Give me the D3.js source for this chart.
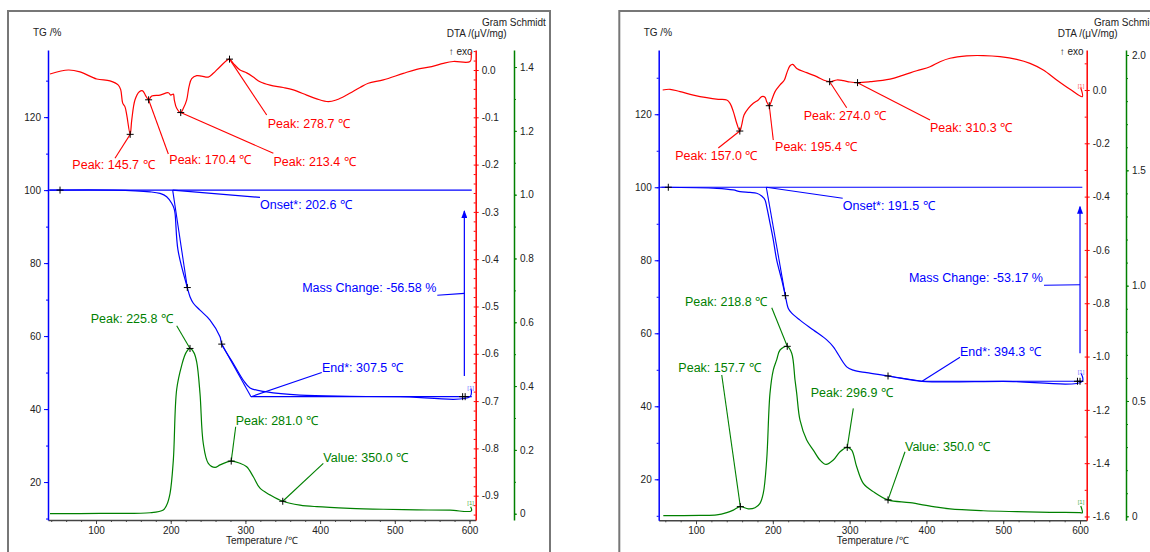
<!DOCTYPE html>
<html>
<head>
<meta charset="utf-8">
<script src="https://cdn.jsdelivr.net/npm/d3@7"></script>
<style>
  body { margin: 0; background: #fff; }
  svg text { font-family: "Liberation Sans", Arial, sans-serif; }
</style>
</head>
<body>
<svg id="chart" width="1150" height="552"></svg>
<script>
// tick labels
const xTicks = [100, 200, 300, 400, 500, 600];
const tgTicks = [20, 40, 60, 80, 100, 120];
const dtaTicksA = [0, -0.1, -0.2, -0.3, -0.4, -0.5, -0.6, -0.7, -0.8, -0.9];
const gsTicksA = [0, 0.2, 0.4, 0.6, 0.8, 1.0, 1.2, 1.4];
const dtaTicksB = [0, -0.2, -0.4, -0.6, -0.8, -1.0, -1.2, -1.4, -1.6];
const gsTicksB = [0, 0.5, 1.0, 1.5, 2.0];

// left sample: [temperature, value]
const dtaA = [[38.4,-0.0085],[62.9,0.0],[78.6,-0.004],[100.9,-0.019],[118.7,-0.023],[129.9,-0.032],[133.1,-0.042],[135.7,-0.070],[138.8,-0.078],[141.1,-0.095],[145.7,-0.136],[147.8,-0.106],[152.2,-0.063],[158.0,-0.046],[162.5,-0.044],[166.0,-0.053],[170.4,-0.063],[174.6,-0.055],[185.7,-0.053],[196.8,-0.048],[200.0,-0.053],[203.5,-0.051],[204.8,-0.063],[208.0,-0.081],[213.4,-0.090],[216.9,-0.081],[221.4,-0.063],[224.5,-0.035],[228.1,-0.018],[234.8,-0.012],[241.5,-0.013],[250.3,-0.015],[257.0,-0.007],[266.0,0.007],[278.7,0.023],[283.8,0.014],[292.8,0.0],[301.7,-0.006],[310.6,-0.015],[319.5,-0.025],[332.9,-0.032],[350.7,-0.037],[364.1,-0.042],[382.0,-0.053],[395.4,-0.061],[411.0,-0.067],[422.2,-0.063],[435.6,-0.053],[453.4,-0.037],[464.5,-0.028],[484.6,-0.021],[511.4,-0.007],[529.3,0.0015],[549.4,0.007],[564.9,0.014],[578.3,0.018],[600.7,0.018],[602,0.038]];
const tgA = [[38,100],[123.2,100],[172.3,99.53],[185.7,99.1],[194.6,98.2],[201.3,96.4],[204.4,95.0],[205.8,93.6],[209.7,83.6],[222.2,73.3],[225.8,70.8],[230.3,69.0],[239.2,67.1],[252.6,64.4],[266.0,59.8],[268.3,57.8],[283.8,52.5],[297.2,47.9],[306.2,45.8],[328.5,44.7],[373.1,43.8],[440,43.5],[507,43.4],[600.7,43.4],[602,45.6]];
const gsA = [[38.4,0.0],[105.4,0.001],[172.3,0.003],[190.1,0.012],[194.6,0.027],[199.1,0.064],[203.5,0.168],[208.0,0.39],[214.7,0.465],[220.5,0.505],[225.8,0.518],[231,0.505],[234.8,0.475],[239.2,0.377],[243.6,0.22],[250.3,0.158],[259.3,0.145],[266,0.153],[281.0,0.165],[292.8,0.158],[301.7,0.147],[310.6,0.116],[319.5,0.080],[332.9,0.059],[350,0.039],[373.1,0.027],[395.4,0.022],[440,0.017],[484.6,0.014],[529.3,0.012],[574,0.011],[602.5,0.009],[601.5,0.022]];

// right sample
const dtaB = [[56.6,0.0],[66.1,0.0026],[79.2,-0.006],[96.5,-0.019],[113.9,-0.029],[129,-0.035],[140,-0.0375],[144.3,-0.05],[148.6,-0.081],[153,-0.125],[157.0,-0.154],[159.5,-0.131],[162.5,-0.094],[168.1,-0.069],[174.6,-0.05],[181.1,-0.0375],[185.5,-0.025],[189.8,-0.027],[192,-0.044],[195.4,-0.059],[198.6,-0.0375],[202.9,-0.006],[209.4,0.019],[215,0.0375],[218.1,0.063],[222.4,0.091],[225.9,0.096],[231.1,0.081],[244.1,0.065],[257.2,0.05],[265.8,0.0375],[274.0,0.031],[283.4,0.0375],[291.8,0.035],[300.5,0.03],[310.3,0.0275],[326.6,0.031],[352.6,0.041],[370,0.056],[387.4,0.072],[404.7,0.087],[417.7,0.106],[430.7,0.119],[452.4,0.128],[474.1,0.129],[495.8,0.125],[517.6,0.115],[534.9,0.1],[552.2,0.075],[569.6,0.0375],[587,0.0026],[603,-0.025],[601,0.0075]];
const tgB = [[55,100],[127,99.7],[148.6,99.26],[157.3,98.8],[170.3,98.6],[179,98.36],[185.5,97.6],[189.8,96.5],[192,94.7],[196.4,90.1],[200.6,85.6],[205,80.1],[211.6,74.6],[216.3,70.3],[220.2,66.8],[224.6,65.5],[235.4,63.6],[252.8,60.9],[270.2,58.2],[278.8,56.3],[296.2,50.8],[304.8,49.9],[322.2,49.2],[350,48.3],[365.6,47.7],[394.3,46.85],[500,46.85],[603,46.85],[601.5,49.0]];
const gsB = [[57.4,0.003],[105.2,0.004],[127,0.006],[140,0.016],[148.6,0.027],[157.7,0.042],[168.1,0.032],[176.8,0.037],[183.3,0.056],[187.6,0.1],[192,0.244],[196.3,0.533],[200.6,0.634],[205,0.678],[209.4,0.721],[218.8,0.737],[224.6,0.707],[228.9,0.591],[231.1,0.533],[235.4,0.417],[244.1,0.331],[252.7,0.287],[261.4,0.244],[269.3,0.225],[278.8,0.244],[287.5,0.28],[296.9,0.299],[302.7,0.287],[309.2,0.215],[317.8,0.143],[330.8,0.107],[350,0.071],[378.6,0.059],[409,0.042],[430.7,0.032],[474,0.024],[517.5,0.02],[560.9,0.017],[600,0.016],[603,0.015],[601,0.045]];

// peak labels: marker, leader end, text position
const dtaPeaksA = [
  {kind: "Peak", t: 145.7, v: -0.136, lead: [125.4, -0.1867], at: [68.3, -0.2093]},
  {kind: "Peak", t: 170.4, v: -0.063, lead: [196.8, -0.1776], at: [198.1, -0.1994]},
  {kind: "Peak", t: 213.4, v: -0.090, lead: [337.4, -0.176], at: [337.6, -0.2023]},
  {kind: "Peak", t: 278.7, v: 0.023, lead: [328.5, -0.0951], at: [329.9, -0.1226]}
];
const gsPeaksA = [
  {kind: "Peak", t: 225.8, v: 0.518, lead: [208, 0.589], at: [92.9, 0.5978]},
  {kind: "Peak", t: 281.0, v: 0.165, lead: [287, 0.2727], at: [287, 0.2765]},
  {kind: "Value", t: 350.0, v: 0.039, lead: [404.3, 0.158], at: [404.3, 0.1636]}
];
const dtaPeaksB = [
  {kind: "Peak", t: 157.0, v: -0.154, lead: [129, -0.2176], at: [73, -0.2645]},
  {kind: "Peak", t: 195.4, v: -0.059, lead: [200.6, -0.1876], at: [202.9, -0.2277]},
  {kind: "Peak", t: 274.0, v: 0.031, lead: [296.2, -0.0664], at: [240.2, -0.1144]},
  {kind: "Peak", t: 310.3, v: 0.0275, lead: [404.7, -0.1126], at: [404.7, -0.1576]}
];
const gsPeaksB = [
  {kind: "Peak", t: 157.7, v: 0.042, lead: [133.5, 0.6127], at: [77, 0.6255]},
  {kind: "Peak", t: 218.8, v: 0.737, lead: [198.6, 0.904], at: [85.7, 0.9138]},
  {kind: "Peak", t: 296.9, v: 0.299, lead: [304.8, 0.468], at: [249.3, 0.5193]},
  {kind: "Value", t: 350.0, v: 0.071, lead: [372.1, 0.28], at: [372.1, 0.283]}
];

// TG evaluation (onset / end / mass change)
const tgEventsA = {start: [51.8, 100], onset: 202.6, onsetTan: [222.2, 73.3], onsetLead: [319.5, 98.0], onsetAt: [319.5, 94.8],
  endMark: [268.3, 57.8], end: 307.5, endLevel: 43.4, endLead: [402.2, 50.0], endAt: [402.5, 50.27], endMarks: [590.8, 594.2],
  mass: -56.58, arrowT: 593.1, arrowFrom: 49.04, arrowTo: 94.25, mcLead: [[556.9, 71.2], [593.1, 71.7]]};
const tgEventsB = {start: [63.9, 100], onset: 191.5, onsetTan: [216.3, 70.3], onsetLead: [291, 97.0], onsetAt: [291, 93.84],
  endMark: [350, 48.3], end: 394.3, endLevel: 46.85, endLead: [443.7, 53.42], endAt: [443.7, 53.84], endMarks: [596.7, 600],
  mass: -53.17, arrowT: 600, arrowFrom: 54.52, arrowTo: 94.68, mcLead: [[553.1, 73.15], [600, 73.3]]};

const panels = [
  {frame: [8, 550], left: 48, right: 475.7, green: 514, top: 50, bottom: 520,
   tDom: [35.7, 608.3], tgDom: [9.6, 138.4], dtaDom: [-0.9514, 0.0423], gsDom: [-0.0197, 1.4534],
   dtaTicks: dtaTicksA, dtaMinor: 0.02, gsTicks: gsTicksA,
   dta: dtaA, tg: tgA, gs: gsA, dtaPeaks: dtaPeaksA, gsPeaks: gsPeaksA, ev: tgEventsA, redTag: false},
  {frame: [619.3, 1160], left: 658.7, right: 1086.7, green: 1126, top: 50, bottom: 520.3,
   tDom: [51.4, 608.7], tgDom: [8.77, 137.6], dtaDom: [-1.6143, 0.150], gsDom: [-0.0173, 2.0217],
   dtaTicks: dtaTicksB, dtaMinor: 0.1, gsTicks: gsTicksB,
   dta: dtaB, tg: tgB, gs: gsB, dtaPeaks: dtaPeaksB, gsPeaks: gsPeaksB, ev: tgEventsB, redTag: true}
];

const RED = "#ff0000", BLUE = "#0000ff", GREEN = "#008000";
const svg = d3.select("#chart");

// arrowhead pointing along the line direction
svg.append("defs").append("marker")
  .attr("id", "arrow").attr("viewBox", "0 0 8 6").attr("refX", 7).attr("refY", 3)
  .attr("markerWidth", 8).attr("markerHeight", 6).attr("orient", "auto")
  .attr("markerUnits", "userSpaceOnUse")
  .append("path").attr("d", "M0,0L8,3L0,6Z").attr("fill", BLUE);

function minorRange(lo, hi, step) {
  const out = [];
  for (let v = Math.ceil(lo / step) * step; v <= hi + 1e-9; v += step) out.push(+v.toFixed(4));
  return out;
}

function styleAxis(g, color) {
  g.attr("font-size", 10).attr("font-family", '"Liberation Sans", Arial, sans-serif');
  g.select(".domain").attr("stroke", color).attr("stroke-width", 1.5);
  g.selectAll(".tick line").attr("stroke", color);
  g.selectAll(".tick text").attr("fill", "#222");
}

function cross(g, x, y) {
  g.append("path").attr("d", `M${x - 3.5},${y}H${x + 3.5}M${x},${y - 3.5}V${y + 3.5}`)
    .attr("stroke", "#000").attr("stroke-width", 1);
}

function drawPanel(p) {
  const g = svg.append("g");
  g.append("rect").attr("x", p.frame[0]).attr("y", 11)
    .attr("width", p.frame[1] - p.frame[0]).attr("height", 560)
    .attr("fill", "none").attr("stroke", "#777").attr("stroke-width", 2);

  const x = d3.scaleLinear().domain(p.tDom).range([p.left, p.right]);
  const yTG = d3.scaleLinear().domain(p.tgDom).range([p.bottom, p.top]);
  const yDTA = d3.scaleLinear().domain(p.dtaDom).range([p.bottom, p.top]);
  const yGS = d3.scaleLinear().domain(p.gsDom).range([p.bottom, p.top]);

  // x axis
  const xa = g.append("g").attr("transform", `translate(0,${p.bottom})`)
    .call(d3.axisBottom(x).tickValues(xTicks).tickSize(4).tickSizeOuter(0).tickPadding(3));
  styleAxis(xa, "#444");
  const xm = g.append("g").attr("transform", `translate(0,${p.bottom})`)
    .call(d3.axisBottom(x).tickValues(minorRange(p.tDom[0], p.tDom[1], 20)).tickSize(2).tickFormat(""));
  xm.select(".domain").remove(); xm.selectAll("line").attr("stroke", "#444");
  g.append("text").attr("x", (p.left + p.right) / 2).attr("y", p.bottom + 24)
    .attr("text-anchor", "middle").attr("font-size", 10).attr("fill", "#222").text("Temperature /℃");

  // TG axis
  const ta = g.append("g").attr("transform", `translate(${p.left},0)`)
    .call(d3.axisLeft(yTG).tickValues(tgTicks).tickSize(4).tickSizeOuter(0).tickPadding(3));
  styleAxis(ta, BLUE);
  const tm = g.append("g").attr("transform", `translate(${p.left},0)`)
    .call(d3.axisLeft(yTG).tickValues(minorRange(p.tgDom[0], p.tgDom[1], 10)).tickSize(2).tickFormat(""));
  tm.select(".domain").remove(); tm.selectAll("line").attr("stroke", BLUE);
  g.append("text").attr("x", p.left - 15).attr("y", 36).attr("font-size", 10).attr("fill", "#222").text("TG /%");

  // DTA axis
  const da = g.append("g").attr("transform", `translate(${p.right},0)`)
    .call(d3.axisRight(yDTA).tickValues(p.dtaTicks).tickSize(3).tickSizeOuter(0).tickPadding(3)
      .tickFormat(v => v.toFixed(1)));
  styleAxis(da, RED);
  const dm = g.append("g").attr("transform", `translate(${p.right},0)`)
    .call(d3.axisRight(yDTA).tickValues(minorRange(p.dtaDom[0], p.dtaDom[1], p.dtaMinor)).tickSize(-2).tickFormat(""));
  dm.select(".domain").remove(); dm.selectAll("line").attr("stroke", RED);
  g.append("text").attr("x", p.right + 31).attr("y", 37).attr("text-anchor", "end")
    .attr("font-size", 10).attr("fill", "#222").text("DTA /(μV/mg)");
  g.append("text").attr("x", p.right - 3).attr("y", 55).attr("text-anchor", "end")
    .attr("font-size", 10).attr("fill", "#222").text("↑ exo");

  // Gram Schmidt axis
  const ga = g.append("g").attr("transform", `translate(${p.green},0)`)
    .call(d3.axisRight(yGS).tickValues(p.gsTicks).tickSize(3).tickSizeOuter(0).tickPadding(3)
      .tickFormat(v => v === 0 ? "0" : v.toFixed(1)));
  styleAxis(ga, GREEN);
  const gm = g.append("g").attr("transform", `translate(${p.green},0)`)
    .call(d3.axisRight(yGS).tickValues(minorRange(p.gsDom[0], p.gsDom[1], 0.1)).tickSize(2).tickFormat(""));
  gm.select(".domain").remove(); gm.selectAll("line").attr("stroke", GREEN);
  g.append("text").attr("x", p.green - 32).attr("y", 26).attr("font-size", 10).attr("fill", "#222").text("Gram Schmidt");

  const line = y => d3.line().x(d => x(d[0])).y(d => y(d[1])).curve(d3.curveCatmullRom.alpha(0.5));
  const straight = (a, color) => g.append("line").attr("x1", a[0][0]).attr("y1", a[0][1])
    .attr("x2", a[1][0]).attr("y2", a[1][1]).attr("stroke", color).attr("stroke-width", 1.1);

  // TG evaluation lines
  const ev = p.ev;
  straight([[p.left, yTG(100)], [x(603), yTG(100)]], BLUE);
  straight([[x(ev.onset), yTG(100)], [x(ev.onsetTan[0]), yTG(ev.onsetTan[1])]], BLUE);
  straight([[x(ev.endMark[0]), yTG(ev.endMark[1])], [x(ev.end), yTG(ev.endLevel)]], BLUE);
  straight([[x(ev.end), yTG(ev.endLevel)], [x(603), yTG(ev.endLevel)]], BLUE);

  // curves
  g.append("path").datum(p.dta).attr("d", line(yDTA)).attr("fill", "none").attr("stroke", RED).attr("stroke-width", 1.2);
  g.append("path").datum(p.tg).attr("d", line(yTG)).attr("fill", "none").attr("stroke", BLUE).attr("stroke-width", 1.2);
  g.append("path").datum(p.gs).attr("d", line(yGS)).attr("fill", "none").attr("stroke", GREEN).attr("stroke-width", 1.2);

  // tags at curve ends
  const tag = (tx, ty, color) => g.append("text").attr("x", tx).attr("y", ty).attr("font-size", 6).attr("fill", color).text("[1]");
  tag(x(597), yTG(ev.endLevel) - 7, "#6a6aff");
  tag(x(597), yGS(p.gs[p.gs.length - 1][1]) - 2, "#4caf4c");
  if (p.redTag) tag(x(597), yDTA(0) - 2, "#ff5a5a");

  // onset / end labels
  straight([[x(ev.onset), yTG(100)], [x(ev.onsetLead[0]), yTG(ev.onsetLead[1])]], BLUE);
  g.append("text").attr("x", x(ev.onsetAt[0])).attr("y", yTG(ev.onsetAt[1])).attr("font-size", 12.5)
    .attr("fill", BLUE).text(`Onset*: ${ev.onset.toFixed(1)} ℃`);
  straight([[x(ev.end), yTG(ev.endLevel)], [x(ev.endLead[0]), yTG(ev.endLead[1])]], BLUE);
  g.append("text").attr("x", x(ev.endAt[0])).attr("y", yTG(ev.endAt[1])).attr("font-size", 12.5)
    .attr("fill", BLUE).text(`End*: ${ev.end.toFixed(1)} ℃`);

  // mass change arrow
  g.append("line").attr("x1", x(ev.arrowT)).attr("y1", yTG(ev.arrowFrom))
    .attr("x2", x(ev.arrowT)).attr("y2", yTG(ev.arrowTo))
    .attr("stroke", BLUE).attr("stroke-width", 1.2).attr("marker-end", "url(#arrow)");
  straight([[x(ev.mcLead[0][0]), yTG(ev.mcLead[0][1])], [x(ev.mcLead[1][0]), yTG(ev.mcLead[1][1])]], BLUE);
  g.append("text").attr("x", x(ev.mcLead[0][0]) - 1).attr("y", yTG(ev.mcLead[0][1]) - 3)
    .attr("text-anchor", "end").attr("font-size", 12.5).attr("fill", BLUE)
    .text(`Mass Change: ${ev.mass.toFixed(2)} %`);

  cross(g, x(ev.start[0]), yTG(ev.start[1]));
  cross(g, x(ev.onsetTan[0]), yTG(ev.onsetTan[1]));
  cross(g, x(ev.endMark[0]), yTG(ev.endMark[1]));
  ev.endMarks.forEach(t => cross(g, x(t), yTG(ev.endLevel)));

  // peak annotations
  const annotate = (list, y, color) => list.forEach(d => {
    straight([[x(d.t), y(d.v)], [x(d.lead[0]), y(d.lead[1])]], color);
    g.append("text").attr("x", x(d.at[0])).attr("y", y(d.at[1])).attr("font-size", 12.5)
      .attr("fill", color).text(`${d.kind}: ${d.t.toFixed(1)} ℃`);
    cross(g, x(d.t), y(d.v));
  });
  annotate(p.dtaPeaks, yDTA, RED);
  annotate(p.gsPeaks, yGS, GREEN);
}

panels.forEach(drawPanel);
</script>
</body>
</html>
